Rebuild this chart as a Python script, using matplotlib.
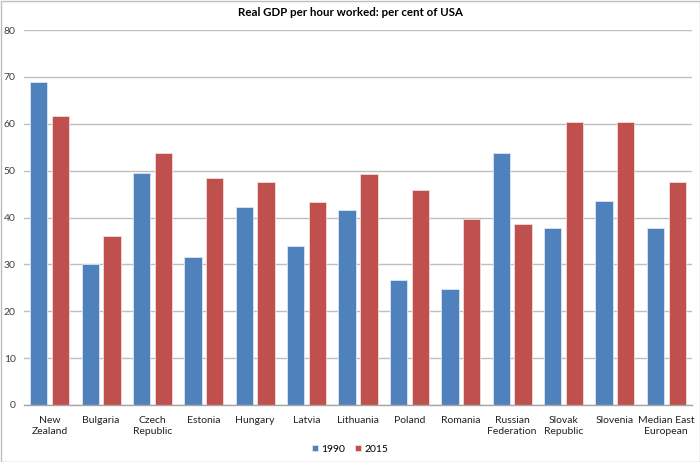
import matplotlib
matplotlib.use("Agg")
import matplotlib.pyplot as plt
import numpy as np
from matplotlib.patches import Rectangle

categories = ["New\nZealand", "Bulgaria", "Czech\nRepublic", "Estonia", "Hungary", "Latvia",
              "Lithuania", "Poland", "Romania", "Russian\nFederation", "Slovak\nRepublic",
              "Slovenia", "Median East\nEuropean"]
v1990 = [68.9, 30.0, 49.6, 31.6, 42.2, 34.0, 41.5, 26.7, 24.7, 53.8, 37.8, 43.5, 37.8]
v2015 = [61.6, 36.0, 53.8, 48.5, 47.6, 43.3, 49.3, 45.9, 39.6, 38.6, 60.3, 60.3, 47.6]
yticks = [0, 10, 20, 30, 40, 50, 60, 70, 80]
title = "Real GDP per hour worked: per cent of USA"

plt.rcParams['font.family'] = ['Lato', 'DejaVu Sans']

fig = plt.figure(figsize=(7, 4.62), dpi=100)
ax = fig.add_axes([24/700, 1-405/462, (692-24)/700, (405-30)/462])

x = np.arange(len(categories))
w = 0.336
off = 0.212
ax.bar(x - off, v1990, w, color="#4F81BD", edgecolor="#DCE6F2", linewidth=0.6, label="1990", zorder=3)
ax.bar(x + off, v2015, w, color="#C0504D", edgecolor="#F2DCDB", linewidth=0.6, label="2015", zorder=3)

ax.set_xlim(-0.5, len(categories) - 0.5)
ax.set_ylim(0, 80)
ax.set_yticks(yticks)
ax.set_yticklabels([str(t) for t in yticks], fontsize=7.5, color="#404040")
ax.set_xticks(x)
ax.set_xticklabels(categories, fontsize=7.5, color="#222222", linespacing=1.3)
ax.tick_params(axis='x', length=0, pad=8)
ax.tick_params(axis='y', length=0, pad=6)
ax.grid(axis='y', color="#BFBFBF", linewidth=1.0, zorder=0)
for s in ["top", "right", "left"]:
    ax.spines[s].set_visible(False)
ax.spines["bottom"].set_color("#A6A6A6")
ax.spines["bottom"].set_linewidth(1.0)
ax.spines["bottom"].set_zorder(4)

fig.text(0.5, 1-13/462, title, ha="center", va="center", fontsize=8.3, fontweight="bold", color="#000000")

leg = fig.legend(loc="center", bbox_to_anchor=(0.5, 1-449/462), ncol=2, frameon=False,
                 fontsize=7.5, handlelength=0.6, handleheight=0.6, handletextpad=0.3,
                 columnspacing=1.0)

fig.patches.append(Rectangle((0.5/700, 0.5/462), 1-1/700, 1-1/462, transform=fig.transFigure,
                             fill=False, edgecolor="#BFBFBF", linewidth=1.0))

fig.savefig("out.png", dpi=100)
